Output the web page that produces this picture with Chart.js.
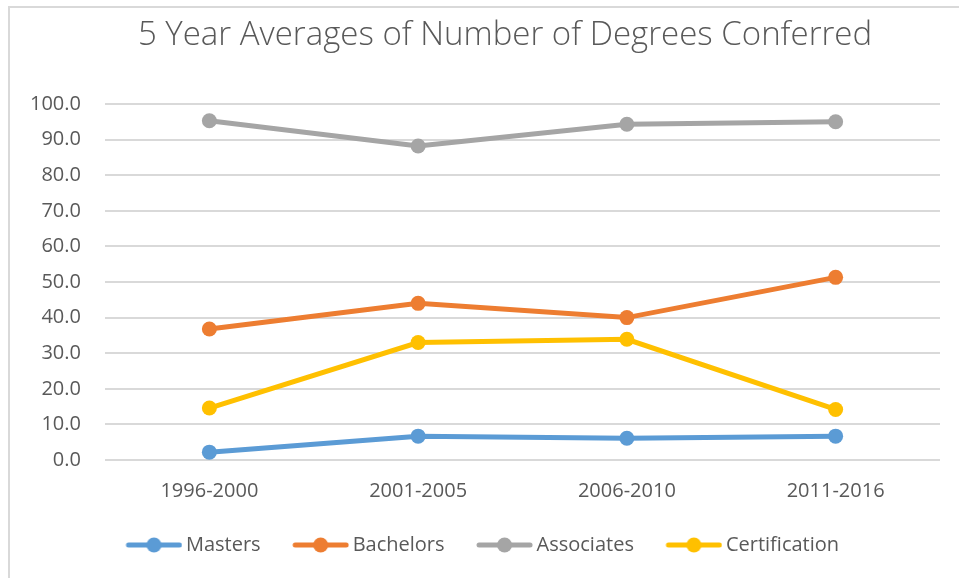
<!DOCTYPE html>
<html>
<head>
<meta charset="utf-8">
<script src="https://cdn.jsdelivr.net/npm/chart.js@4.4.0/dist/chart.umd.min.js"></script>
<style>
  html, body { margin: 0; padding: 0; background: #fff; }
  #wrap { position: relative; width: 959px; height: 578px; overflow: hidden; }
  #frame { position: absolute; left: 8px; top: 6px; width: 960px; height: 580px;
           border-left: 2px solid #d9d9d9; border-top: 2px solid #d9d9d9; box-sizing: border-box; }
  #grafico { position: absolute; left: 0; top: 0; }
</style>
</head>
<body>
<div id="wrap">
  <div id="frame"></div>
  <canvas id="grafico" width="959" height="578"></canvas>
</div>
<script>
// Dados
const periodos = ['1996-2000', '2001-2005', '2006-2010', '2011-2016'];
const masters = [2.2, 6.7, 6.1, 6.7];
const bachelors = [36.8, 44.0, 40.0, 51.3];
const associates = [95.3, 88.2, 94.3, 95.0];
const certification = [14.6, 33.0, 33.9, 14.2];
const yTicks = [0, 10, 20, 30, 40, 50, 60, 70, 80, 90, 100];
const titulo = '5 Year Averages of Number of Degrees Conferred';

const cores = {
  Masters: '#5b9bd5',
  Bachelors: '#ed7d31',
  Associates: '#a5a5a5',
  Certification: '#ffc000'
};

// Ícone da legenda: linha com círculo no meio (margem transparente à esquerda)
function iconeLegenda(cor) {
  const c = document.createElement('canvas');
  c.width = 82; c.height = 18;
  const g = c.getContext('2d');
  g.strokeStyle = cor;
  g.lineWidth = 5;
  g.lineCap = 'round';
  g.beginPath(); g.moveTo(28, 9); g.lineTo(79, 9); g.stroke();
  g.fillStyle = cor;
  g.beginPath(); g.arc(53.5, 9, 7.5, 0, Math.PI * 2); g.fill();
  return c;
}

function serie(nome, valores) {
  return {
    label: nome,
    data: valores,
    borderColor: cores[nome],
    backgroundColor: cores[nome],
    borderWidth: 5,
    pointRadius: 7.5,
    pointHoverRadius: 7.5,
    pointBorderWidth: 0,
    tension: 0
  };
}

// Título desenhado à mão (centro deslocado como no original)
const tituloPlugin = {
  id: 'tituloPlugin',
  afterDraw: function (chart) {
    const g = chart.ctx;
    g.save();
    g.font = '300 33px "Open Sans"';
    g.fillStyle = '#595959';
    g.textAlign = 'center';
    g.textBaseline = 'middle';
    g.fillText(titulo, 505, 36);
    g.restore();
  }
};

const ctx = document.getElementById('grafico').getContext('2d');

new Chart(ctx, {
  type: 'line',
  data: {
    labels: periodos,
    datasets: [
      serie('Masters', masters),
      serie('Bachelors', bachelors),
      serie('Associates', associates),
      serie('Certification', certification)
    ]
  },
  plugins: [tituloPlugin],
  options: {
    responsive: false,
    animation: false,
    layout: { padding: { left: 6, right: 19, top: 104, bottom: 13 } },
    plugins: {
      title: { display: false },
      legend: {
        position: 'bottom',
        labels: {
          color: '#595959',
          font: { family: 'Open Sans', size: 20 },
          usePointStyle: true,
          pointStyleWidth: 69,
          padding: 13,
          generateLabels: function (chart) {
            return chart.data.datasets.map(function (ds, i) {
              return {
                text: ds.label,
                pointStyle: iconeLegenda(ds.borderColor),
                fillStyle: ds.borderColor,
                strokeStyle: ds.borderColor,
                lineWidth: 0,
                fontColor: '#595959',
                datasetIndex: i,
                hidden: false
              };
            });
          }
        }
      },
      tooltip: { enabled: false }
    },
    scales: {
      x: {
        offset: true,
        grid: { display: false, drawTicks: false },
        border: { display: false },
        ticks: {
          color: '#595959',
          font: { family: 'Open Sans', size: 20 },
          padding: 19
        }
      },
      y: {
        min: 0,
        max: 100,
        afterBuildTicks: function (axis) {
          axis.ticks = yTicks.map(function (v) { return { value: v }; });
        },
        grid: { color: '#d9d9d9', lineWidth: 2, drawTicks: false },
        border: { display: false },
        ticks: {
          color: '#595959',
          font: { family: 'Open Sans', size: 20 },
          padding: 24,
          callback: function (v) { return Number(v).toFixed(1); }
        }
      }
    }
  }
});
</script>
</body>
</html>
